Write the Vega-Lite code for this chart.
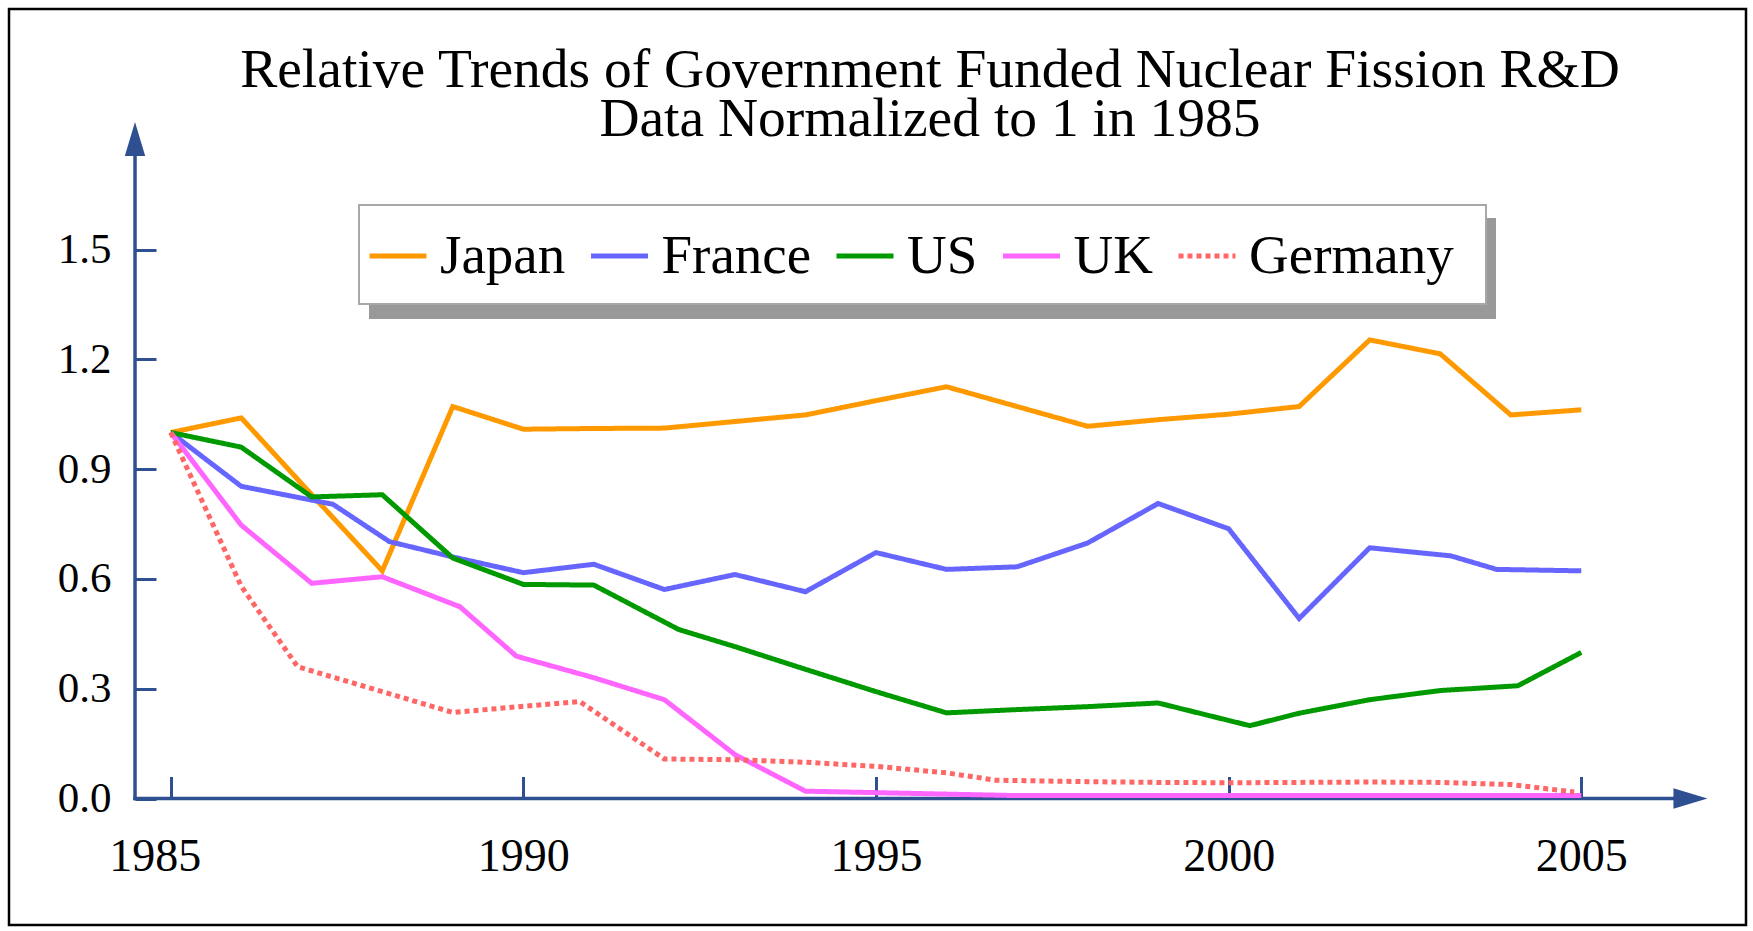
{
  "$schema": "https://vega.github.io/schema/vega-lite/v6.json",
  "width": 1737,
  "height": 916,
  "autosize": {"type": "none"},
  "padding": {"left": 9, "top": 9, "right": 7, "bottom": 6},
  "background": "white",
  "title": {
    "text": ["Relative Trends of Government Funded Nuclear Fission R&D", "Data Normalized to 1 in 1985"],
    "font": "Liberation Serif",
    "fontSize": 55.5,
    "fontWeight": "normal",
    "color": "black",
    "anchor": "middle",
    "baseline": "alphabetic",
    "lineHeight": 49,
    "offset": -182,
    "dx": 52.5
  },
  "data": {
    "values": [
      {"country": "Japan", "year": 1985, "value": 1.0},
      {"country": "Japan", "year": 1986, "value": 1.04},
      {"country": "Japan", "year": 1987, "value": 0.83},
      {"country": "Japan", "year": 1988, "value": 0.622},
      {"country": "Japan", "year": 1989, "value": 1.071},
      {"country": "Japan", "year": 1990, "value": 1.009},
      {"country": "Japan", "year": 1991, "value": 1.011},
      {"country": "Japan", "year": 1992, "value": 1.012},
      {"country": "Japan", "year": 1993, "value": 1.03},
      {"country": "Japan", "year": 1994, "value": 1.048},
      {"country": "Japan", "year": 1995, "value": 1.087},
      {"country": "Japan", "year": 1996, "value": 1.125},
      {"country": "Japan", "year": 1997, "value": 1.071},
      {"country": "Japan", "year": 1998, "value": 1.017},
      {"country": "Japan", "year": 1999, "value": 1.035},
      {"country": "Japan", "year": 2000, "value": 1.05},
      {"country": "Japan", "year": 2001, "value": 1.071},
      {"country": "Japan", "year": 2002, "value": 1.253},
      {"country": "Japan", "year": 2003, "value": 1.215},
      {"country": "Japan", "year": 2004, "value": 1.048},
      {"country": "Japan", "year": 2005, "value": 1.062},

      {"country": "France", "year": 1985, "value": 1.0},
      {"country": "France", "year": 1986, "value": 0.853},
      {"country": "France", "year": 1987.3, "value": 0.804},
      {"country": "France", "year": 1988.1, "value": 0.702},
      {"country": "France", "year": 1989, "value": 0.66},
      {"country": "France", "year": 1990, "value": 0.617},
      {"country": "France", "year": 1991, "value": 0.64},
      {"country": "France", "year": 1992, "value": 0.571},
      {"country": "France", "year": 1993, "value": 0.612},
      {"country": "France", "year": 1994, "value": 0.565},
      {"country": "France", "year": 1995, "value": 0.672},
      {"country": "France", "year": 1996, "value": 0.626},
      {"country": "France", "year": 1997, "value": 0.633},
      {"country": "France", "year": 1998, "value": 0.698},
      {"country": "France", "year": 1999, "value": 0.806},
      {"country": "France", "year": 2000, "value": 0.737},
      {"country": "France", "year": 2001, "value": 0.492},
      {"country": "France", "year": 2002, "value": 0.685},
      {"country": "France", "year": 2003.15, "value": 0.663},
      {"country": "France", "year": 2003.8, "value": 0.626},
      {"country": "France", "year": 2005, "value": 0.622},

      {"country": "US", "year": 1985, "value": 1.0},
      {"country": "US", "year": 1986, "value": 0.96},
      {"country": "US", "year": 1987, "value": 0.824},
      {"country": "US", "year": 1988, "value": 0.83},
      {"country": "US", "year": 1989, "value": 0.657},
      {"country": "US", "year": 1990, "value": 0.585},
      {"country": "US", "year": 1991, "value": 0.583},
      {"country": "US", "year": 1992.2, "value": 0.462},
      {"country": "US", "year": 1993, "value": 0.415},
      {"country": "US", "year": 1994, "value": 0.353},
      {"country": "US", "year": 1995, "value": 0.292},
      {"country": "US", "year": 1996, "value": 0.234},
      {"country": "US", "year": 1997, "value": 0.243},
      {"country": "US", "year": 1998, "value": 0.251},
      {"country": "US", "year": 1999, "value": 0.261},
      {"country": "US", "year": 2000.3, "value": 0.199},
      {"country": "US", "year": 2001, "value": 0.233},
      {"country": "US", "year": 2002, "value": 0.27},
      {"country": "US", "year": 2003, "value": 0.295},
      {"country": "US", "year": 2004.1, "value": 0.308},
      {"country": "US", "year": 2005, "value": 0.399},

      {"country": "UK", "year": 1985, "value": 1.0},
      {"country": "UK", "year": 1986, "value": 0.747},
      {"country": "UK", "year": 1987, "value": 0.588},
      {"country": "UK", "year": 1988, "value": 0.606},
      {"country": "UK", "year": 1989.1, "value": 0.524},
      {"country": "UK", "year": 1989.9, "value": 0.389},
      {"country": "UK", "year": 1991, "value": 0.33},
      {"country": "UK", "year": 1992, "value": 0.27},
      {"country": "UK", "year": 1993, "value": 0.12},
      {"country": "UK", "year": 1994, "value": 0.02},
      {"country": "UK", "year": 1995, "value": 0.016},
      {"country": "UK", "year": 1996, "value": 0.012},
      {"country": "UK", "year": 1997, "value": 0.008},
      {"country": "UK", "year": 1998, "value": 0.008},
      {"country": "UK", "year": 1999, "value": 0.008},
      {"country": "UK", "year": 2000, "value": 0.008},
      {"country": "UK", "year": 2001, "value": 0.008},
      {"country": "UK", "year": 2002, "value": 0.008},
      {"country": "UK", "year": 2003, "value": 0.008},
      {"country": "UK", "year": 2004, "value": 0.008},
      {"country": "UK", "year": 2005, "value": 0.008},

      {"country": "Germany", "year": 1985, "value": 1.0},
      {"country": "Germany", "year": 1986, "value": 0.58},
      {"country": "Germany", "year": 1986.8, "value": 0.36},
      {"country": "Germany", "year": 1988, "value": 0.292},
      {"country": "Germany", "year": 1989, "value": 0.235},
      {"country": "Germany", "year": 1990, "value": 0.252},
      {"country": "Germany", "year": 1990.8, "value": 0.265},
      {"country": "Germany", "year": 1992, "value": 0.108},
      {"country": "Germany", "year": 1993, "value": 0.106},
      {"country": "Germany", "year": 1994, "value": 0.099},
      {"country": "Germany", "year": 1995, "value": 0.088},
      {"country": "Germany", "year": 1996, "value": 0.07},
      {"country": "Germany", "year": 1996.7, "value": 0.05},
      {"country": "Germany", "year": 1998, "value": 0.046},
      {"country": "Germany", "year": 1999, "value": 0.044},
      {"country": "Germany", "year": 2000, "value": 0.043},
      {"country": "Germany", "year": 2001, "value": 0.044},
      {"country": "Germany", "year": 2002, "value": 0.045},
      {"country": "Germany", "year": 2003, "value": 0.044},
      {"country": "Germany", "year": 2004, "value": 0.038},
      {"country": "Germany", "year": 2004.9, "value": 0.018}
    ]
  },
  "layer": [
    {
      "data": {"values": [{}]},
      "mark": {"type": "rule", "color": "#2E5090", "strokeWidth": 3.5, "strokeCap": "square"},
      "encoding": {
        "x": {"datum": 1984.494, "type": "quantitative"},
        "y": {"datum": 0, "type": "quantitative"},
        "y2": {"datum": 1.8019}
      }
    },
    {
      "data": {"values": [{}]},
      "mark": {"type": "rule", "color": "#2E5090", "strokeWidth": 3.5, "strokeCap": "square"},
      "encoding": {
        "x": {"datum": 1984.494, "type": "quantitative"},
        "x2": {"datum": 2006.548},
        "y": {"datum": 0, "type": "quantitative"}
      }
    },
    {
      "data": {"values": [{}]},
      "mark": {"type": "point", "shape": "M0,-1L0.6,1L-0.6,1Z", "filled": true, "size": 1156, "color": "#2E5090", "opacity": 1, "strokeWidth": 0},
      "encoding": {
        "x": {"datum": 1984.494, "type": "quantitative"},
        "y": {"datum": 1.8019, "type": "quantitative"}
      }
    },
    {
      "data": {"values": [{}]},
      "mark": {"type": "point", "shape": "M1,0L-1,0.6L-1,-0.6Z", "filled": true, "size": 1156, "color": "#2E5090", "opacity": 1, "strokeWidth": 0},
      "encoding": {
        "x": {"datum": 2006.548, "type": "quantitative"},
        "y": {"datum": 0, "type": "quantitative"}
      }
    },
    {
      "mark": {"type": "line", "strokeJoin": "miter"},
      "encoding": {
        "x": {
          "field": "year",
          "type": "quantitative",
          "scale": {"domain": [1982.7073, 2007.3356], "nice": false, "zero": false},
          "axis": {
            "orient": "bottom",
            "offset": -126.5,
            "domain": false,
            "grid": false,
            "title": null,
            "values": [1985, 1990, 1995, 2000, 2005],
            "format": "d",
            "ticks": true,
            "tickSize": -22,
            "tickWidth": 3,
            "tickColor": "#2E5090",
            "labelFont": "Liberation Serif",
            "labelFontSize": 46,
            "labelColor": "black",
            "labelBaseline": "alphabetic",
            "labelPadding": 93.5,
            "labelOffset": {"condition": {"test": "datum.value === 1985", "value": -16}, "value": 0},
            "labelFlush": false,
            "labelOverlap": false
          }
        },
        "y": {
          "field": "value",
          "type": "quantitative",
          "scale": {"domain": [-0.3456, 2.1571], "nice": false, "zero": false},
          "axis": {
            "orient": "left",
            "offset": -126,
            "domain": false,
            "grid": false,
            "title": null,
            "values": [0, 0.3, 0.6, 0.9, 1.2, 1.5],
            "format": ".1f",
            "ticks": true,
            "tickSize": -21,
            "tickWidth": 3,
            "tickColor": "#2E5090",
            "labelFont": "Liberation Serif",
            "labelFontSize": 43,
            "labelColor": "black",
            "labelBaseline": "middle",
            "labelPadding": 45,
            "labelOverlap": false
          }
        },
        "color": {
          "field": "country",
          "type": "nominal",
          "scale": {
            "domain": ["Japan", "France", "US", "UK", "Germany"],
            "range": ["#FF9900", "#6666FF", "#009900", "#FF66FF", "#FF6666"]
          },
          "legend": {
            "orient": "none",
            "legendX": 338,
            "legendY": 196,
            "direction": "horizontal",
            "title": null,
            "zindex": 3,
            "fillColor": "transparent",
            "strokeColor": "transparent",
            "padding": 20,
            "columnPadding": 14.5,
            "labelOffset": 11,
            "labelFont": "Liberation Serif",
            "labelFontSize": 55,
            "labelColor": "black",
            "labelLimit": 500,
            "symbolType": "stroke",
            "symbolSize": 3249,
            "symbolStrokeWidth": 5
          }
        },
        "strokeDash": {
          "field": "country",
          "type": "nominal",
          "scale": {
            "domain": ["Japan", "France", "US", "UK", "Germany"],
            "range": [[1, 0], [1, 0], [1, 0], [1, 0], [5, 4]]
          },
          "legend": {
            "orient": "none",
            "legendX": 338,
            "legendY": 196,
            "direction": "horizontal",
            "title": null,
            "zindex": 3,
            "fillColor": "transparent",
            "strokeColor": "transparent",
            "padding": 20,
            "columnPadding": 14.5,
            "labelOffset": 11,
            "labelFont": "Liberation Serif",
            "labelFontSize": 55,
            "labelColor": "black",
            "labelLimit": 500,
            "symbolType": "stroke",
            "symbolSize": 3249,
            "symbolStrokeWidth": 5
          }
        },
        "strokeWidth": {
          "field": "country",
          "type": "nominal",
          "scale": {
            "domain": ["UK", "Germany", "Japan", "France", "US"],
            "range": [5, 5]
          },
          "legend": {
            "orient": "none",
            "legendX": 350,
            "legendY": 196,
            "direction": "horizontal",
            "title": null,
            "zindex": 2,
            "fillColor": "white",
            "strokeColor": "#A8A8A8",
            "padding": 20,
            "columnPadding": 180.5,
            "labelOffset": 11,
            "labelExpr": "''",
            "labelFont": "Liberation Serif",
            "labelFontSize": 55,
            "labelColor": "white",
            "labelLimit": 500,
            "symbolType": "stroke",
            "symbolSize": 3249,
            "symbolStrokeWidth": 5,
            "symbolOpacity": 0,
            "symbolStrokeColor": "white"
          }
        },
        "opacity": {
          "field": "country",
          "type": "nominal",
          "scale": {
            "domain": ["Germany", "UK", "US", "France", "Japan"],
            "range": [1, 1]
          },
          "legend": {
            "orient": "none",
            "legendX": 361,
            "legendY": 210,
            "direction": "horizontal",
            "title": null,
            "zindex": 1,
            "fillColor": "#999999",
            "strokeColor": "#999999",
            "padding": 20,
            "columnPadding": 171.8,
            "labelOffset": 11,
            "labelExpr": "''",
            "labelFont": "Liberation Serif",
            "labelFontSize": 55,
            "labelColor": "#999999",
            "labelLimit": 500,
            "symbolType": "stroke",
            "symbolSize": 3249,
            "symbolStrokeWidth": 5,
            "symbolStrokeColor": "#999999"
          }
        }
      }
    }
  ],
  "config": {
    "view": {"stroke": "#000000", "strokeWidth": 2.5},
    "font": "Liberation Serif",
    "legend": {"strokeWidth": 2}
  }
}
